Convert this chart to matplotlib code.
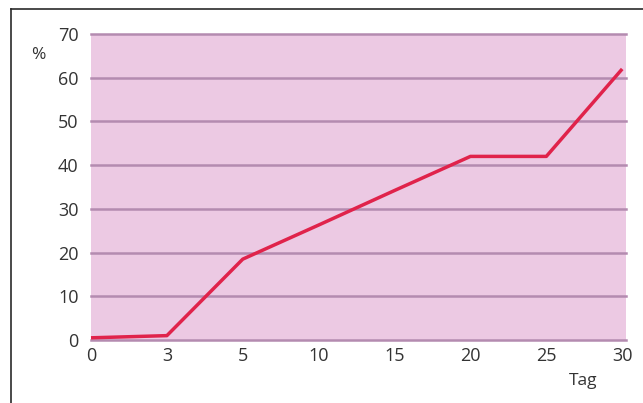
import matplotlib.pyplot as plt
from matplotlib.lines import Line2D

days = ["0", "3", "5", "10", "15", "20", "25", "30"]
percent = [0.5, 1, 18.5, 26.3, 34.2, 42, 42, 62]
y_ticks = [0, 10, 20, 30, 40, 50, 60, 70]

W, H = 643, 403
fig = plt.figure(figsize=(W / 100, H / 100), dpi=100)
fig.patch.set_facecolor("white")

ax = fig.add_axes([91 / W, (H - 340) / H, (626 - 91) / W, (340 - 34) / H])
ax.set_facecolor("#ecc9e3")

x = list(range(len(days)))
ax.plot(x, percent, color="#e0234b", lw=2.5, solid_joinstyle="round",
        solid_capstyle="butt", zorder=3, clip_on=False)

ax.set_xlim(0, 7.05)
ax.set_ylim(0, 70)
ax.set_yticks(y_ticks)
ax.set_xticks(x, days)
for v in y_ticks:
    ax.axhline(v, color="#b48bb0", lw=1.8, zorder=2, clip_on=False)

for s in ax.spines.values():
    s.set_visible(False)
ax.tick_params(length=0, colors="#333333", labelsize=13)
ax.tick_params(axis="y", pad=9)
ax.tick_params(axis="x", pad=5)
for lab in ax.get_xticklabels() + ax.get_yticklabels():
    lab.set_fontfamily("Open Sans")

fig.text(38 / W, 1 - 55 / H, "%", ha="center", va="center",
         fontsize=12.5, color="#333333", family="Open Sans")
fig.text(583 / W, 1 - 381 / H, "Tag", ha="center", va="center",
         fontsize=12.5, color="#333333", family="Open Sans")

# partial outer frame
fig.add_artist(Line2D([11 / W, 1], [1 - 9 / H, 1 - 9 / H], color="#2a2a2a", lw=1.2))
fig.add_artist(Line2D([11 / W, 11 / W], [0, 1 - 9 / H], color="#2a2a2a", lw=1.2))

fig.savefig("out.png", dpi=100)
